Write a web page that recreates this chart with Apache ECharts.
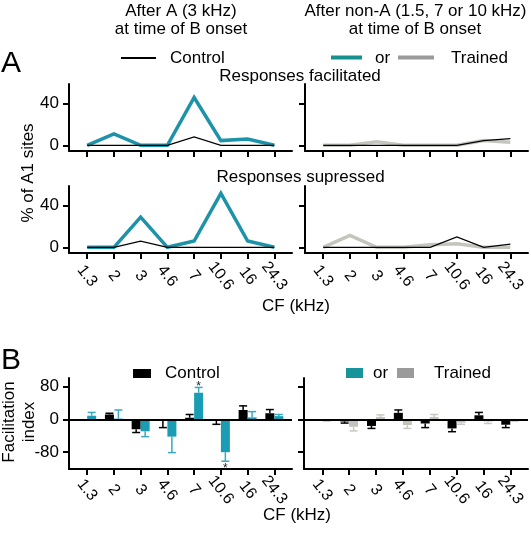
<!DOCTYPE html>
<html>
<head>
<meta charset="utf-8">
<script src="https://cdn.jsdelivr.net/npm/echarts@6/dist/echarts.min.js"></script>
<style>
html,body{margin:0;padding:0;background:#fff;}
#c{width:531px;height:535px;}
</style>
</head>
<body>
<div id="c"></div>
<script>
// ---- data ----
const cats = ['1.3', '2', '3', '4.6', '7', '10.6', '16', '24.3'];
// Panel A: % of A1 sites
const facCtrlA = [0, 0, 0, 0, 8, 0, 0, 0];          // after A, control
const facTrainA = [0, 11, 0, 0, 46, 4.5, 6, 0];     // after A, trained
const supCtrlA = [0, 0, 6, 0, 0, 0, 0, 0];
const supTrainA = [0, 0, 29, 0, 6, 52, 6, 0];
const facCtrlN = [0, 0, 0, 0, 0, 0, 4.5, 6.5];      // after non-A, control
const facTrainN = [0, 0, 3.5, 0, 0, 0, 4.5, 3];     // after non-A, trained
const supCtrlN = [0, 0, 0, 0, 0, 10, 0, 3];
const supTrainN = [0, 11.5, 0, 0, 2.5, 3.5, 0, 0];
const yTicksA = [0, 40];
// Panel B: facilitation index (mean and SEM)
const fiCtrlA = [0, 12, -24, -1, 4, -3, 23, 15];
const fiCtrlAErr = [0, 3, 8, 19, 8, 9, 10, 9];
const fiTrainA = [9, 2, -29, -42, 65, -80, 5, 8];
const fiTrainAErr = [8, 21, 13, 39, 13, 22, 14, 4];
const fiTrainASig = [0, 0, 0, 0, 1, 1, 0, 0];
const fiCtrlN = [0, -5, -16, 16, -10, -22, 10, -13];
const fiCtrlNErr = [0, 4, 6, 7, 10, 8, 7, 7];
const fiTrainN = [-2, -18, 6, -14, 6, -8, -5, -2];
const fiTrainNErr = [2, 10, 5, 8, 6, 4, 5, 2];
const yTicksB = [-80, 0, 80];

const FONT = '"Liberation Sans", Arial, sans-serif';
const TEAL_LINE = '#1c93a8';
const TEAL_BAR = '#1a9cb4';
const TEAL_ERR = '#38a9bf';
const GREY_LINE = '#c4c5bd';
const GREY_BAR = '#c3c3bb';
const GREY_ERR = '#c8c8c0';
const idx = cats.map((c, i) => i);

const chart = echarts.init(document.getElementById('c'), null, {renderer: 'canvas'});

const grids = [
  {left: 69, top: 84, width: 223, height: 67},
  {left: 305, top: 84, width: 223, height: 67},
  {left: 69, top: 186, width: 223, height: 67},
  {left: 305, top: 186, width: 223, height: 67},
  {left: 69, top: 378, width: 223, height: 91},
  {left: 304, top: 378, width: 224, height: 91}
];

function xAx(gi, showLabels, margin) {
  return {
    type: 'value', gridIndex: gi, min: -0.68, max: 7.66,
    splitLine: {show: false},
    axisLine: {show: true, onZero: false, lineStyle: {color: '#000', width: 2}},
    axisTick: {show: true, customValues: idx, length: 6, lineStyle: {color: '#000', width: 2}},
    axisLabel: {
      show: showLabels, customValues: idx, formatter: v => cats[Math.round(v)],
      rotate: -52, align: 'center', verticalAlign: 'middle', margin: margin,
      fontSize: 16, color: '#000', fontFamily: FONT
    }
  };
}
function yAx(gi, showLabels, min, max, ticks) {
  return {
    type: 'value', gridIndex: gi, min: min, max: max,
    splitLine: {show: false},
    axisLine: {show: true, onZero: false, lineStyle: {color: '#000', width: 2}},
    axisTick: {show: true, customValues: ticks, length: 6, lineStyle: {color: '#000', width: 2}},
    axisLabel: {show: showLabels, customValues: ticks, margin: 10, fontSize: 17, color: '#000', fontFamily: FONT}
  };
}

const pts = arr => arr.map((v, i) => [i, v]);

function lineS(gi, arr, color, width, z) {
  return {type: 'line', xAxisIndex: gi, yAxisIndex: gi, data: pts(arr), symbol: 'none',
    lineStyle: {color: color, width: width, join: 'miter'}, z: z, silent: true, animation: false};
}
function barS(gi, arr, color, extra) {
  return Object.assign({type: 'bar', xAxisIndex: gi, yAxisIndex: gi, data: pts(arr),
    barWidth: 9, barGap: '0%', itemStyle: {color: color}, silent: true, animation: false, z: 3}, extra || {});
}
function errS(gi, vals, errs, sig, color, offset) {
  return {
    type: 'custom', xAxisIndex: gi, yAxisIndex: gi, silent: true, animation: false, z: 4,
    data: vals.map((v, i) => [i, v, errs[i], sig ? sig[i] : 0]),
    encode: {x: 0, y: 1},
    renderItem: function (params, api) {
      const x = api.value(0), v = api.value(1), e = api.value(2), s = api.value(3);
      if (!e) return null;
      const dir = v >= 0 ? 1 : -1;
      const p0 = api.coord([x, v]);
      const p1 = api.coord([x, v + dir * e]);
      const cx = p0[0] + offset;
      const children = [
        {type: 'line', shape: {x1: cx, y1: p0[1], x2: cx, y2: p1[1]}, style: {stroke: color, lineWidth: 1.5}},
        {type: 'line', shape: {x1: cx - 4, y1: p1[1], x2: cx + 4, y2: p1[1]}, style: {stroke: color, lineWidth: 1.5}}
      ];
      if (s) {
        children.push({type: 'text', x: cx, y: dir > 0 ? p1[1] - 1 : p1[1] + 7,
          style: {text: '*', font: '12px ' + FONT, fill: '#222', align: 'center', verticalAlign: 'middle',
            textAlign: 'center', textVerticalAlign: 'middle'}});
      }
      return {type: 'group', children: children};
    }
  };
}

function txt(text, x, y, size, align, extra) {
  return Object.assign({
    type: 'text', x: x, y: y, silent: true,
    style: {text: text, font: size + 'px ' + FONT, fill: '#000',
      align: align, verticalAlign: 'middle', textAlign: align, textVerticalAlign: 'middle'}
  }, extra || {});
}
function hline(x1, x2, y, color, w) {
  return {type: 'line', silent: true, shape: {x1: x1, y1: y, x2: x2, y2: y}, style: {stroke: color, lineWidth: w}};
}
function rect(x, y, w, h, color) {
  return {type: 'rect', silent: true, shape: {x: x, y: y, width: w, height: h}, style: {fill: color}};
}

const zeroLine = {markLine: {silent: true, symbol: 'none', label: {show: false},
  lineStyle: {color: '#000', width: 2, type: 'solid'}, data: [{yAxis: 0}], animation: false}};

const option = {
  animation: false,
  backgroundColor: '#fff',
  textStyle: {fontFamily: FONT},
  grid: grids,
  xAxis: [xAx(0, false, 22), xAx(1, false, 22), xAx(2, true, 23), xAx(3, true, 23), xAx(4, true, 21), xAx(5, true, 21)],
  yAxis: [
    yAx(0, true, -5.5, 59, yTicksA), yAx(1, false, -5.5, 59, yTicksA),
    yAx(2, true, -5.5, 59, yTicksA), yAx(3, false, -5.5, 59, yTicksA),
    yAx(4, true, -121, 101, yTicksB), yAx(5, false, -121, 101, yTicksB)
  ],
  series: [
    lineS(0, facTrainA, TEAL_LINE, 3.5, 2), lineS(0, facCtrlA, '#000', 1.3, 3),
    lineS(1, facTrainN, GREY_LINE, 3.5, 2), lineS(1, facCtrlN, '#000', 1.3, 3),
    lineS(2, supTrainA, TEAL_LINE, 3.5, 2), lineS(2, supCtrlA, '#000', 1.3, 3),
    lineS(3, supTrainN, GREY_LINE, 3.5, 2), lineS(3, supCtrlN, '#000', 1.3, 3),
    barS(4, fiCtrlA, '#000', zeroLine), barS(4, fiTrainA, TEAL_BAR),
    errS(4, fiCtrlA, fiCtrlAErr, null, '#000', -4.5),
    errS(4, fiTrainA, fiTrainAErr, fiTrainASig, TEAL_ERR, 4.5),
    barS(5, fiCtrlN, '#000', zeroLine), barS(5, fiTrainN, GREY_BAR),
    errS(5, fiCtrlN, fiCtrlNErr, null, '#000', -4.5),
    errS(5, fiTrainN, fiTrainNErr, null, GREY_ERR, 4.5)
  ],
  graphic: [
    txt('After A (3 kHz)', 181, 11, 17, 'center'),
    txt('at time of B onset', 181, 29, 17, 'center'),
    txt('After non-A (1.5, 7 or 10 kHz)', 415.5, 11, 17, 'center'),
    txt('at time of B onset', 415, 29, 17, 'center'),
    txt('A', 1, 64, 30, 'left'),
    hline(121, 156, 58, '#000', 2),
    txt('Control', 170, 58.5, 17, 'left'),
    hline(331, 362, 57.5, '#14908f', 4),
    txt('or', 375, 58.5, 17, 'left'),
    hline(398, 434, 57.5, '#9a9a9a', 4),
    txt('Trained', 451, 58.5, 17, 'left'),
    txt('Responses facilitated', 300, 76, 17, 'center'),
    txt('Responses supressed', 300.5, 177, 17, 'center'),
    txt('% of A1 sites', 28, 173, 17, 'center', {rotation: Math.PI / 2}),
    txt('CF (kHz)', 296, 306, 17, 'center'),
    txt('B', 1, 361, 30, 'left'),
    rect(133, 369, 18, 9, '#000'),
    txt('Control', 165, 373.5, 17, 'left'),
    rect(346, 368, 17, 10, '#17939a'),
    txt('or', 373, 373.5, 17, 'left'),
    rect(397, 368, 17, 10, '#9a9a9a'),
    txt('Trained', 434, 373.5, 17, 'left'),
    txt('Facilitation', 9, 422, 17, 'center', {rotation: Math.PI / 2}),
    txt('index', 29, 422, 17, 'center', {rotation: Math.PI / 2}),
    txt('CF (kHz)', 297, 515, 17, 'center')
  ]
};
chart.setOption(option);
</script>
</body>
</html>
